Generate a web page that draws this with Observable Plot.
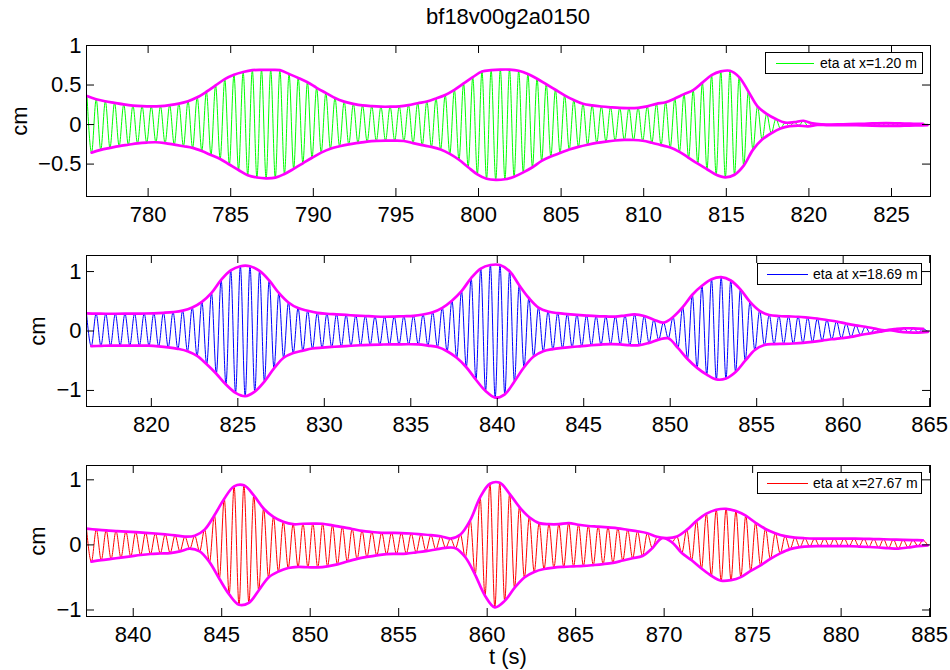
<!DOCTYPE html>
<html>
<head>
<meta charset="utf-8">
<script src="https://cdn.jsdelivr.net/npm/d3@7"></script>
<script src="https://cdn.jsdelivr.net/npm/@observablehq/plot@0.6"></script>
<style>
  html, body { margin: 0; padding: 0; background: #fff; }
  #fig { position: relative; width: 950px; height: 670px; overflow: hidden; background: #fff;
         font-family: "Liberation Sans", Arial, Helvetica, sans-serif; color: #000; }
  .panel { position: absolute; left: 0; }
  .txt { position: absolute; white-space: nowrap; line-height: 1; }
  .legend { position: absolute; background: #fff; border: 1px solid #000; box-sizing: border-box; }
  .legend .ln { position: absolute; height: 1px; }
  .legend .lt { position: absolute; font-size: 14px; line-height: 1; white-space: nowrap; }
</style>
</head>
<body>
<div id="fig"></div>
<script>
// ---------- texts ----------
const title = "bf18v00g2a0150";
const yLabel = "cm";
const xLabel = "t (s)";
const legendLabels = ["eta at x=1.20 m", "eta at x=18.69 m", "eta at x=27.67 m"];

// ---------- axes ----------
const xDomains = [[776.27, 827.36], [816.25, 865.05], [837.36, 885.05]];
const yDomains = [[-0.91, 1.0], [-1.27, 1.27], [-1.10, 1.22]];
const xTicks1 = [780, 785, 790, 795, 800, 805, 810, 815, 820, 825];
const xTicks2 = [820, 825, 830, 835, 840, 845, 850, 855, 860, 865];
const xTicks3 = [840, 845, 850, 855, 860, 865, 870, 875, 880, 885];
const yTicks1 = [-0.5, 0, 0.5, 1];
const yTicks2 = [-1, 0, 1];
const yTicks3 = [-1, 0, 1];

// ---------- series: wave crests (upper) and troughs (lower), one per half period ----------
const period = 0.556;                       // carrier period (s)
const startTimes = [776.30, 816.25, 837.36]; // time of first crest in each panel

const upper1 = [0.36,0.32,0.295,0.275,0.255,0.24,0.232,0.229,0.232,0.245,
  0.265,0.295,0.345,0.415,0.495,0.575,0.63,0.665,0.688,0.692,
  0.692,0.688,0.64,0.59,0.535,0.465,0.40,0.335,0.29,0.262,
  0.242,0.232,0.226,0.226,0.23,0.245,0.27,0.292,0.33,0.375,
  0.44,0.52,0.60,0.67,0.688,0.695,0.695,0.68,0.64,0.58,
  0.51,0.44,0.37,0.31,0.263,0.242,0.228,0.218,0.21,0.208,
  0.212,0.23,0.262,0.282,0.33,0.385,0.435,0.53,0.625,0.672,
  0.68,0.60,0.42,0.23,0.135,0.07,0.025,0.03,0.048,0.015,
  0.003,0.0,0.002,0.005,0.008,0.012,0.016,0.018,0.016,0.012,
  0.01,0.01];
const lower1 = [-0.355,-0.32,-0.295,-0.272,-0.255,-0.238,-0.228,-0.224,-0.235,-0.254,
  -0.274,-0.295,-0.335,-0.385,-0.435,-0.505,-0.575,-0.64,-0.67,-0.68,
  -0.672,-0.625,-0.56,-0.49,-0.42,-0.355,-0.305,-0.275,-0.25,-0.232,
  -0.216,-0.207,-0.203,-0.203,-0.208,-0.235,-0.26,-0.283,-0.315,-0.37,
  -0.445,-0.54,-0.63,-0.686,-0.70,-0.692,-0.66,-0.605,-0.54,-0.46,
  -0.405,-0.36,-0.315,-0.282,-0.255,-0.232,-0.215,-0.202,-0.195,-0.195,
  -0.205,-0.23,-0.26,-0.29,-0.345,-0.42,-0.495,-0.565,-0.635,-0.668,
  -0.635,-0.52,-0.32,-0.19,-0.11,-0.05,-0.02,-0.014,-0.022,-0.005,
  -0.006,-0.007,-0.008,-0.008,-0.01,-0.013,-0.016,-0.017,-0.016,-0.013,
  -0.01,-0.008];

const upper2 = [0.295,0.292,0.29,0.29,0.291,0.292,0.294,0.298,0.306,0.318,
  0.342,0.395,0.49,0.64,0.86,1.02,1.09,1.09,1.01,0.85,
  0.64,0.48,0.385,0.34,0.305,0.29,0.28,0.27,0.26,0.252,
  0.244,0.24,0.243,0.248,0.255,0.278,0.315,0.39,0.51,0.67,
  0.89,1.05,1.11,1.11,1.005,0.77,0.555,0.395,0.328,0.30,
  0.285,0.272,0.26,0.25,0.245,0.242,0.26,0.278,0.252,0.19,
  0.142,0.235,0.40,0.61,0.76,0.87,0.905,0.85,0.70,0.49,
  0.34,0.27,0.252,0.246,0.24,0.226,0.21,0.185,0.16,0.125,
  0.095,0.072,0.04,0.012,0.03,0.045,0.045,0.035];
const lower2 = [-0.255,-0.25,-0.246,-0.245,-0.245,-0.245,-0.247,-0.258,-0.275,-0.30,
  -0.34,-0.42,-0.56,-0.72,-0.90,-1.04,-1.096,-1.02,-0.85,-0.63,
  -0.45,-0.37,-0.33,-0.295,-0.28,-0.268,-0.258,-0.248,-0.24,-0.232,
  -0.228,-0.226,-0.224,-0.223,-0.226,-0.245,-0.27,-0.34,-0.45,-0.61,
  -0.82,-1.01,-1.12,-1.065,-0.85,-0.61,-0.43,-0.34,-0.305,-0.285,
  -0.268,-0.255,-0.24,-0.228,-0.22,-0.225,-0.24,-0.24,-0.20,-0.145,
  -0.123,-0.285,-0.47,-0.62,-0.735,-0.815,-0.80,-0.69,-0.50,-0.32,
  -0.235,-0.22,-0.216,-0.21,-0.20,-0.183,-0.162,-0.139,-0.12,-0.10,
  -0.065,-0.04,-0.012,0.015,-0.01,-0.022,-0.026,-0.014];

const upper3 = [0.25,0.235,0.222,0.213,0.204,0.195,0.186,0.175,0.162,0.147,
  0.126,0.14,0.235,0.455,0.71,0.90,0.915,0.76,0.56,0.43,
  0.355,0.318,0.325,0.328,0.325,0.30,0.272,0.245,0.215,0.198,
  0.186,0.184,0.182,0.175,0.163,0.15,0.133,0.098,0.16,0.38,
  0.73,0.94,0.955,0.785,0.58,0.425,0.335,0.318,0.318,0.335,
  0.31,0.29,0.28,0.268,0.255,0.232,0.21,0.18,0.125,0.105,
  0.13,0.23,0.37,0.48,0.54,0.555,0.52,0.45,0.34,0.245,
  0.18,0.135,0.112,0.102,0.097,0.097,0.097,0.097,0.096,0.094,
  0.09,0.087,0.082,0.077,0.073,0.071];
const lower3 = [-0.258,-0.235,-0.215,-0.195,-0.175,-0.155,-0.14,-0.132,-0.125,-0.10,
  -0.058,-0.10,-0.265,-0.52,-0.76,-0.92,-0.89,-0.70,-0.50,-0.41,
  -0.355,-0.338,-0.343,-0.346,-0.33,-0.30,-0.255,-0.215,-0.185,-0.16,
  -0.143,-0.138,-0.133,-0.115,-0.095,-0.07,-0.045,-0.05,-0.19,-0.46,
  -0.78,-0.959,-0.86,-0.66,-0.50,-0.415,-0.37,-0.348,-0.337,-0.33,
  -0.323,-0.31,-0.295,-0.275,-0.24,-0.205,-0.17,-0.05,0.105,0.04,
  -0.125,-0.235,-0.362,-0.474,-0.55,-0.542,-0.495,-0.40,-0.315,-0.215,
  -0.13,-0.065,-0.035,-0.022,-0.02,-0.02,-0.02,-0.02,-0.025,-0.032,
  -0.04,-0.05,-0.056,-0.04,-0.018,-0.006];

// ---------- styling / layout ----------
const carrierColors = ["#00ff00", "#0000ff", "#ff0000"];
const envelopeColor = "#ff00ff";
const FONT = "'Liberation Sans', Arial, Helvetica, sans-serif";
const W = 950, H = 236, MT = 45, MB = 40, ML = 86, MR = 20;
const panelTops = [0, 210, 420];
const legendBoxes = [
  {left: 765, top: 52, width: 158, height: 22, lineL: 10, lineW: 38, textL: 54},
  {left: 757, top: 263, width: 165, height: 22, lineL: 9, lineW: 41, textL: 55},
  {left: 757, top: 472, width: 165, height: 22, lineL: 9, lineW: 41, textL: 55}
];
const yLabelX = [20, 38, 38];

const xTicksAll = [xTicks1, xTicks2, xTicks3];
const yTicksAll = [yTicks1, yTicks2, yTicks3];
const uppers = [upper1, upper2, upper3];
const lowers = [lower1, lower2, lower3];

const fig = document.getElementById("fig");
const fmt = d => (d < 0 ? "\u2212" : "") + Math.abs(d);
const fh = H - MT - MB, fw = W - ML - MR, tickLen = 8;

function addText(str, cx, cy, size, rotate) {
  const el = document.createElement("div");
  el.className = "txt";
  el.textContent = str;
  el.style.fontSize = size + "px";
  el.style.left = cx + "px";
  el.style.top = cy + "px";
  el.style.transform = "translate(-50%,-50%)" + (rotate ? " rotate(-90deg)" : "");
  fig.appendChild(el);
}

for (let i = 0; i < 3; i++) {
  const t0 = startTimes[i];
  const up = uppers[i].map((v, k) => ({t: t0 + k * period, v}));
  const lo = lowers[i].map((v, k) => ({t: t0 + (k + 0.5) * period, v}));
  const carrier = d3.merge(up.map((d, k) => lo[k] ? [d, lo[k]] : [d]));

  const chart = Plot.plot({
    width: W, height: H, marginTop: MT, marginBottom: MB, marginLeft: ML, marginRight: MR,
    x: {domain: xDomains[i]},
    y: {domain: yDomains[i]},
    style: {fontSize: "22px", fontFamily: FONT, color: "#000", background: "transparent", overflow: "visible"},
    marks: [
      Plot.line(carrier, {x: "t", y: "v", stroke: carrierColors[i], strokeWidth: 1, curve: "monotone-x", clip: true}),
      Plot.line(up, {x: "t", y: "v", stroke: envelopeColor, strokeWidth: 2.7, curve: "catmull-rom", clip: true}),
      Plot.line(lo, {x: "t", y: "v", stroke: envelopeColor, strokeWidth: 2.7, curve: "catmull-rom", clip: true}),
      Plot.tickX(xTicksAll[i], {x: d => d, insetTop: fh - tickLen, stroke: "#000"}),
      Plot.tickX(xTicksAll[i], {x: d => d, insetBottom: fh - tickLen, stroke: "#000"}),
      Plot.tickY(yTicksAll[i], {y: d => d, insetRight: fw - tickLen, stroke: "#000"}),
      Plot.tickY(yTicksAll[i], {y: d => d, insetLeft: fw - tickLen, stroke: "#000"}),
      Plot.axisX({ticks: xTicksAll[i], tickSize: 0, tickPadding: 10, tickFormat: fmt, label: null}),
      Plot.axisY({ticks: yTicksAll[i], tickSize: 0, tickPadding: 5, tickFormat: fmt, label: null}),
      Plot.frame({stroke: "#000", strokeWidth: 1})
    ]
  });
  chart.classList.add("panel");
  chart.style.top = panelTops[i] + "px";
  fig.appendChild(chart);

  // y label
  addText(yLabel, yLabelX[i], panelTops[i] + MT + fh / 2, 22, true);

  // legend
  const lb = legendBoxes[i];
  const box = document.createElement("div");
  box.className = "legend";
  Object.assign(box.style, {left: lb.left + "px", top: lb.top + "px", width: lb.width + "px", height: lb.height + "px"});
  const ln = document.createElement("div");
  ln.className = "ln";
  Object.assign(ln.style, {left: lb.lineL + "px", top: "10px", width: lb.lineW + "px", background: carrierColors[i]});
  const lt = document.createElement("div");
  lt.className = "lt";
  lt.textContent = legendLabels[i];
  Object.assign(lt.style, {left: lb.textL + "px", top: "3px"});
  box.appendChild(ln);
  box.appendChild(lt);
  fig.appendChild(box);
}

addText(title, ML + fw / 2, 17, 22, false);
addText(xLabel, ML + fw / 2, 657, 22, false);
</script>
</body>
</html>
